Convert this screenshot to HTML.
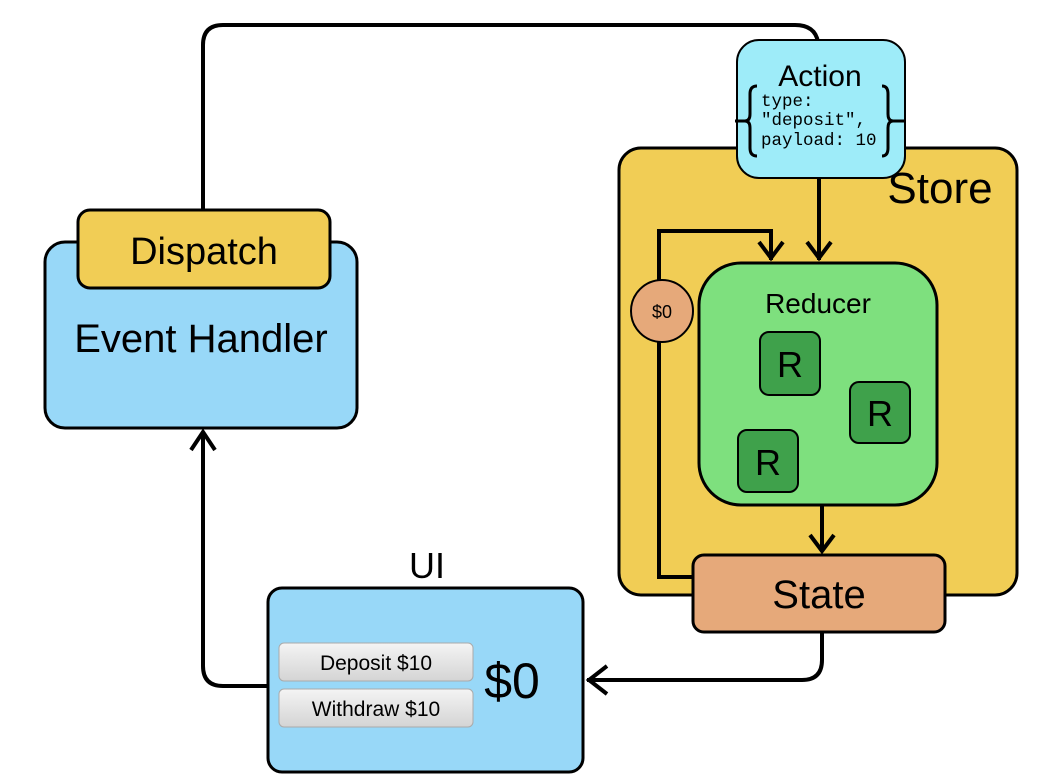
<!DOCTYPE html>
<html><head><meta charset="utf-8"><style>
html,body{margin:0;padding:0;background:#fff;}
svg{display:block;font-family:"Liberation Sans","DejaVu Sans",sans-serif;}
</style></head><body>
<svg width="1059" height="779" viewBox="0 0 1059 779" xmlns="http://www.w3.org/2000/svg">
<defs>
<linearGradient id="btn" x1="0" y1="0" x2="0" y2="1"><stop offset="0" stop-color="#f4f4f4"/><stop offset="1" stop-color="#d4d4d4"/></linearGradient>
</defs>
<path d="M203 212 L203 45 Q203 25 223 25 L795 25 Q815 25 818 42" fill="none" stroke="#000" stroke-width="4"/>
<rect x="619" y="148" width="398" height="447" rx="22" fill="#f1cd55" stroke="#000" stroke-width="3"/>
<text x="940" y="203" font-size="44" text-anchor="middle" fill="#000">Store</text>
<rect x="737" y="40" width="168" height="138" rx="22" fill="#9eecf9" stroke="#000" stroke-width="2"/>
<text x="820" y="86" font-size="30" text-anchor="middle">Action</text>
<path d="M735 121 L745 121 M757 86 Q750 86 750 94 L750 114 Q750 121 745 121 Q750 121 750 128 L750 148 Q750 156 757 156" fill="none" stroke="#000" stroke-width="3"/>
<path d="M905 121 L893 121 M882 86 Q888 86 888 94 L888 114 Q888 121 893 121 Q888 121 888 128 L888 148 Q888 156 882 156" fill="none" stroke="#000" stroke-width="3"/>
<g font-family="'Liberation Mono','DejaVu Sans Mono',monospace" font-size="17.5">
<text x="761" y="106">type:</text>
<text x="761" y="125">"deposit",</text>
<text x="761" y="145">payload: 10</text>
</g>
<path d="M819 178 L819 260" stroke="#000" stroke-width="4" fill="none"/>
<path d="M807 242 L819 258 L831 242" stroke="#000" stroke-width="4" fill="none"/>
<path d="M693 577 L659 577 L659 231 L771 231 L771 260" stroke="#000" stroke-width="4" fill="none"/>
<path d="M759 242 L771 258 L783 242" stroke="#000" stroke-width="4" fill="none"/>
<circle cx="662" cy="311" r="31" fill="#e6a97a" stroke="#000" stroke-width="2"/>
<text x="662" y="318" font-size="18" text-anchor="middle">$0</text>
<rect x="699" y="263" width="238" height="242" rx="42" fill="#7ee07e" stroke="#000" stroke-width="3"/>
<text x="818" y="313" font-size="28" text-anchor="middle">Reducer</text>
<g fill="#3fa14b" stroke="#000" stroke-width="2">
<rect x="760" y="332" width="60" height="63" rx="9"/>
<rect x="850" y="382" width="60" height="61" rx="9"/>
<rect x="738" y="430" width="60" height="62" rx="9"/>
</g>
<g font-size="36" text-anchor="middle">
<text x="790" y="377">R</text>
<text x="880" y="426">R</text>
<text x="768" y="475">R</text>
</g>
<path d="M822 505 L822 551" stroke="#000" stroke-width="4" fill="none"/>
<path d="M810 535 L822 551 L834 535" stroke="#000" stroke-width="4" fill="none"/>
<rect x="693" y="555" width="252" height="77" rx="11" fill="#e6a97a" stroke="#000" stroke-width="3"/>
<text x="819" y="608" font-size="40" text-anchor="middle">State</text>
<path d="M822 632 L822 660 Q822 680 802 680 L587 680" stroke="#000" stroke-width="4" fill="none"/>
<path d="M607 666 L589 680 L607 694" stroke="#000" stroke-width="4" fill="none"/>
<text x="427" y="578" font-size="36" text-anchor="middle">UI</text>
<rect x="268" y="588" width="315" height="184" rx="14" fill="#98d8f8" stroke="#000" stroke-width="3"/>
<rect x="279" y="643" width="194" height="38" rx="5" fill="url(#btn)" stroke="#aaa" stroke-width="1"/>
<rect x="279" y="689" width="194" height="38" rx="5" fill="url(#btn)" stroke="#aaa" stroke-width="1"/>
<text x="376" y="670" font-size="21" text-anchor="middle">Deposit $10</text>
<text x="376" y="716" font-size="21" text-anchor="middle">Withdraw $10</text>
<text x="512" y="698" font-size="50" text-anchor="middle">$0</text>
<path d="M268 686 L223 686 Q203 686 203 666 L203 434" stroke="#000" stroke-width="4" fill="none"/>
<path d="M191 450 L203 432 L215 450" stroke="#000" stroke-width="4" fill="none"/>
<rect x="45" y="242" width="312" height="186" rx="20" fill="#98d8f8" stroke="#000" stroke-width="3"/>
<text x="201" y="352" font-size="40" text-anchor="middle">Event Handler</text>
<rect x="78" y="210" width="252" height="78" rx="12" fill="#f1cd55" stroke="#000" stroke-width="3"/>
<text x="204" y="264" font-size="38" text-anchor="middle">Dispatch</text>
</svg>
</body></html>
